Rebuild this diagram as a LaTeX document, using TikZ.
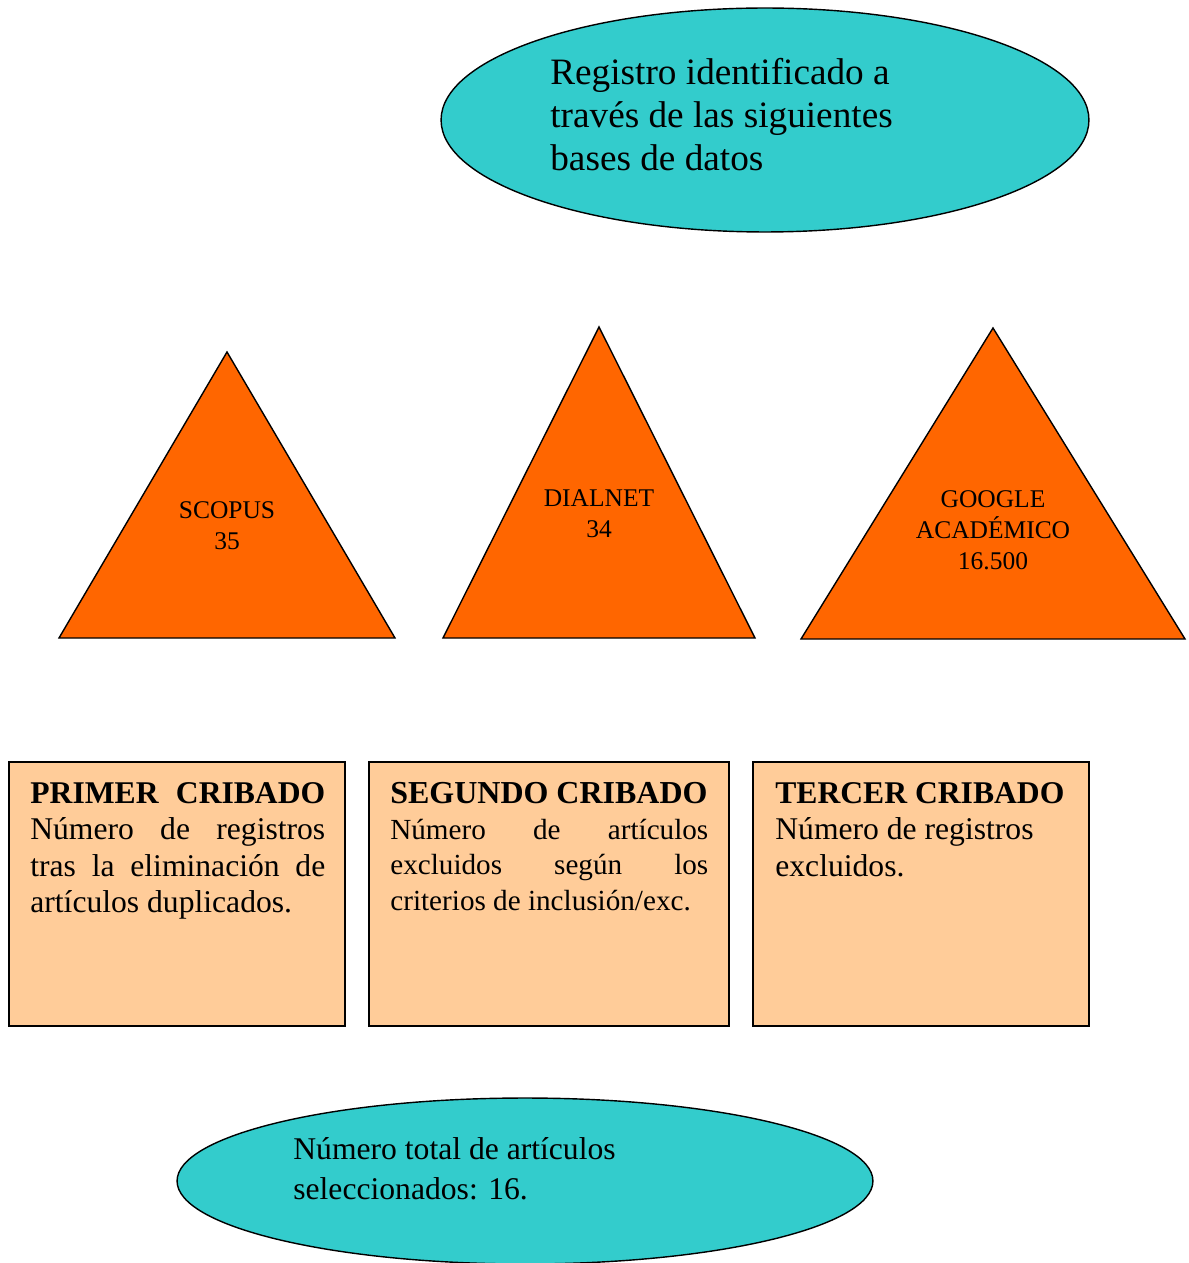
\documentclass[tikz,border=0pt]{standalone}
\usepackage{fontspec}
\setmainfont{Liberation Serif}
\usetikzlibrary{shapes.geometric}
\definecolor{turquesa}{HTML}{33CCCC}
\definecolor{naranja}{HTML}{FF6600}
\definecolor{melocoton}{HTML}{FFCC99}
\tikzset{
  elipse/.style={ellipse, draw=black, fill=turquesa, line width=0.8pt, inner sep=0pt},
  triangulo/.style={draw=black, fill=naranja, line width=0.8pt, line join=miter},
  caja/.style={draw=black, fill=melocoton, line width=1pt},
  texto/.style={inner sep=0pt, anchor=north west},
  textotri/.style={inner sep=0pt, align=center, font=\fontsize{14.5}{17.6}\selectfont},
}

\begin{document}
\begin{tikzpicture}[x=0.02cm, y=-0.02cm]
		%%%%% START %%%%%
		\clip (0,0) rectangle (1188,1263);
		
		\node[elipse, minimum width=12.96cm, minimum height=4.48cm] (registro) at (765,120) {};
		\node[texto, align=left, font=\fontsize{21.2}{24.4}\selectfont] (registrotxt) at (550,58) {Registro identificado a\\través de las siguientes\\bases de datos};
		
		\draw[triangulo] (227,352) -- (395,638) -- (59,638) -- cycle;
		\node[textotri] (scopus) at (227,526) {SCOPUS\\35};
		\draw[triangulo] (599,327) -- (755,638) -- (443,638) -- cycle;
		\node[textotri] (dialnet) at (599,514) {DIALNET\\34};
		\draw[triangulo] (993,328) -- (1185,639) -- (801,639) -- cycle;
		\node[textotri] (google) at (993,530) {GOOGLE\\ACADÉMICO\\16.500};
		
		\draw[caja] (9,762) rectangle (345,1026);
		\node[texto, text width=5.9cm, align=justify, font=\fontsize{18}{20.7}\selectfont] (primer) at (30,782) {\textbf{PRIMER CRIBADO}\linebreak Número de registros\linebreak tras la eliminación de\linebreak artículos duplicados.};
		\draw[caja] (369,762) rectangle (729,1026);
		\node[texto, text width=6.36cm, align=justify, font=\fontsize{16.6}{20.2}\selectfont] (segundo) at (390,782) {{\fontsize{18.2}{20.2}\selectfont\textbf{SEGUNDO CRIBADO}}\\Número de artículos\linebreak excluidos según los\linebreak criterios de inclusión/exc.};
		\draw[caja] (753,762) rectangle (1089,1026);
		\node[texto, align=left, font=\fontsize{18}{20.7}\selectfont] (tercer) at (775,782) {\textbf{TERCER CRIBADO}\\Número de registros\\excluidos.};
		
		\node[elipse, minimum width=13.92cm, minimum height=3.32cm] (total) at (525,1181) {};
		\node[texto, align=left, font=\fontsize{18}{22.7}\selectfont] (totaltxt) at (293,1137) {Número total de artículos\\seleccionados: 16.};
		
		%%%%% END %%%%%
\end{tikzpicture}
\end{document}
